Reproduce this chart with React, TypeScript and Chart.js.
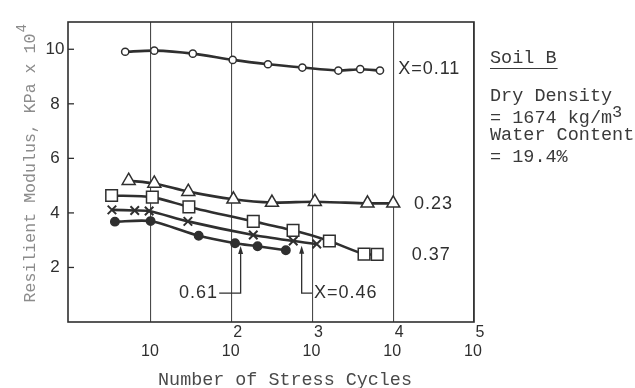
import React, { useEffect, useRef } from "react";
import { Chart, registerables } from "chart.js";

Chart.register(...registerables);

// ---- Data ----
const cyclesX011 = [4.8, 11, 33, 103, 281, 749, 2090, 3900, 6850];
const modulusX011 = [9.91, 9.95, 9.84, 9.61, 9.45, 9.33, 9.22, 9.27, 9.22];

const cyclesX023 = [5.3, 11, 29, 105, 315, 1070, 4800, 10000];
const modulusX023 = [5.18, 5.08, 4.78, 4.5, 4.38, 4.41, 4.35, 4.35];

const cyclesX037 = [3.26, 10.4, 29.5, 185, 575, 1620, 4350, 6330];
const modulusX037 = [4.64, 4.58, 4.22, 3.69, 3.36, 2.97, 2.49, 2.48];

const cyclesX046 = [3.29, 6.3, 9.5, 28.7, 185, 578, 1130];
const modulusX046 = [4.11, 4.09, 4.07, 3.69, 3.19, 2.97, 2.86];

const cyclesX061 = [3.58, 9.9, 39, 110, 209, 468];
const modulusX061 = [3.68, 3.7, 3.16, 2.89, 2.78, 2.63];

const xTickValues = [10, 100, 1000, 10000, 100000];
const xTickExponents = ["", "2", "3", "4", "5"];
const yTickValues = [2, 4, 6, 8, 10];

const curveLabels = ["X=0.11", "0.23", "0.37"];
const curveLabelCycles = [11500, 18100, 17000];
const curveLabelModulus = [9.28, 4.33, 2.46];

const infoLines = ["Dry Density", "= 1674 kg/m", "Water Content", "= 19.4%"];

const INK = "#2f2f2f";

function pts(xs: number[], ys: number[]) {
  return xs.map((x, i) => ({ x, y: ys[i] }));
}

const overlayPlugin = {
  id: "overlay",
  afterDraw(chart: any) {
    const ctx: CanvasRenderingContext2D = chart.ctx;
    const { left, top, right, bottom } = chart.chartArea;
    const xs = chart.scales.x;
    const ys = chart.scales.y;
    ctx.save();

    // frame
    ctx.strokeStyle = INK;
    ctx.lineWidth = 1.6;
    ctx.strokeRect(left, top, right - left, bottom - top);

    // y ticks (inside) and labels
    ctx.fillStyle = INK;
    ctx.font = "17px 'Liberation Sans'";
    ctx.textAlign = "center";
    ctx.textBaseline = "middle";
    ctx.lineWidth = 1.3;
    yTickValues.forEach((v) => {
      const py = ys.getPixelForValue(v);
      ctx.beginPath();
      ctx.moveTo(left, py);
      ctx.lineTo(left + 6, py);
      ctx.stroke();
      ctx.fillText(String(v), left - 13, py);
    });

    // x tick labels 10^n
    xTickValues.forEach((v, i) => {
      const px = xs.getPixelForValue(v);
      ctx.font = "16px 'Liberation Sans'";
      ctx.textAlign = "center";
      ctx.fillText("10", px - 1, bottom + 30);
      if (xTickExponents[i]) {
        ctx.fillText(xTickExponents[i], px + 6, bottom + 11);
      }
    });

    // axis titles
    ctx.font = "18.4px 'Liberation Mono'";
    ctx.fillStyle = "#4a4a4a";
    ctx.textAlign = "center";
    ctx.fillText("Number of Stress Cycles", 285, bottom + 58);

    ctx.save();
    ctx.translate(31, 168);
    ctx.rotate(-Math.PI / 2);
    ctx.fillStyle = "#8c8c8c";
    ctx.font = "16.6px 'Liberation Mono'";
    const yTitle = "Resilient Modulus, KPa x 10";
    ctx.fillText(yTitle, 0, 0);
    const w = ctx.measureText(yTitle).width;
    ctx.textAlign = "left";
    ctx.font = "14px 'Liberation Mono'";
    ctx.fillText("4", w / 2 + 1, -9);
    ctx.restore();

    // curve labels
    ctx.fillStyle = INK;
    ctx.font = "18px 'Liberation Sans'";
    ctx.textAlign = "left";
    ctx.textBaseline = "middle";
    (ctx as any).letterSpacing = "1px";
    curveLabels.forEach((t, i) => {
      ctx.fillText(t, xs.getPixelForValue(curveLabelCycles[i]), ys.getPixelForValue(curveLabelModulus[i]));
    });

    // leader arrows
    const arrow = (vx: number, hy: number, tipY: number, hx: number) => {
      ctx.strokeStyle = INK;
      ctx.lineWidth = 1.3;
      ctx.beginPath();
      ctx.moveTo(hx, hy);
      ctx.lineTo(vx, hy);
      ctx.lineTo(vx, tipY + 6);
      ctx.stroke();
      ctx.beginPath();
      ctx.moveTo(vx, tipY);
      ctx.lineTo(vx - 2.5, tipY + 8);
      ctx.lineTo(vx + 2.5, tipY + 8);
      ctx.closePath();
      ctx.fill();
    };
    const ly = ys.getPixelForValue(1.06);
    ctx.textAlign = "right";
    ctx.fillText("0.61", xs.getPixelForValue(67.6), ly);
    arrow(xs.getPixelForValue(129), ly, ys.getPixelForValue(2.79), xs.getPixelForValue(70));
    arrow(xs.getPixelForValue(735), ly, ys.getPixelForValue(2.8), xs.getPixelForValue(986));
    ctx.textAlign = "left";
    ctx.fillText("X=0.46", xs.getPixelForValue(1045), ly);
    (ctx as any).letterSpacing = "0px";

    // info block
    const bx = right + 16;
    ctx.fillStyle = "#3a3a3a";
    ctx.textBaseline = "alphabetic";
    ctx.font = "18.5px 'Liberation Mono'";
    ctx.fillText("Soil B", bx, 63);
    const sw = ctx.measureText("Soil B").width;
    ctx.lineWidth = 1.2;
    ctx.strokeStyle = "#3a3a3a";
    ctx.beginPath();
    ctx.moveTo(bx, 68.5);
    ctx.lineTo(bx + sw + 1, 68.5);
    ctx.stroke();
    const baselines = [101, 122.5, 139.5, 162];
    infoLines.forEach((t, i) => {
      ctx.fillText(t, bx, baselines[i]);
      if (i === 1) {
        const tw = ctx.measureText(t).width;
        ctx.font = "17px 'Liberation Mono'";
        ctx.fillText("3", bx + tw, baselines[i] - 6);
        ctx.font = "18.5px 'Liberation Mono'";
      }
    });

    ctx.restore();
  },
};

export default function App() {
  const ref = useRef<HTMLCanvasElement | null>(null);
  useEffect(() => {
    document.body.style.margin = "0";
    const canvas = ref.current!;
    const line = {
      borderColor: INK,
      borderWidth: 2.6,
      tension: 0.25,
      pointBorderColor: INK,
      pointBorderWidth: 1.5,
    };
    const chart = new Chart(canvas, {
      type: "line",
      data: {
        datasets: [
          { ...line, label: "X=0.11", data: pts(cyclesX011, modulusX011), pointStyle: "circle", pointRadius: 3.6, pointBackgroundColor: "#fff" },
          { ...line, label: "X=0.23", data: pts(cyclesX023, modulusX023), pointStyle: "triangle", pointRadius: 7.5, pointBackgroundColor: "#fff" },
          { ...line, label: "X=0.37", data: pts(cyclesX037, modulusX037), pointStyle: "rect", pointRadius: 8.2, pointBackgroundColor: "#fff" },
          { ...line, label: "X=0.46", data: pts(cyclesX046, modulusX046), pointStyle: "crossRot", pointRadius: 6, pointBorderWidth: 2, pointBackgroundColor: "#fff" },
          { ...line, label: "X=0.61", data: pts(cyclesX061, modulusX061), pointStyle: "circle", pointRadius: 4.2, pointBackgroundColor: INK },
        ],
      } as any,
      options: {
        responsive: false,
        animation: false,
        events: [],
        layout: { padding: { left: 68, top: 22, right: 161, bottom: 66 } },
        plugins: { legend: { display: false }, tooltip: { enabled: false } },
        scales: {
          x: {
            type: "logarithmic",
            min: 0.94,
            max: 100000,
            ticks: { display: false },
            grid: { color: "#4a4a4a", lineWidth: 1.1, drawTicks: false },
            border: { display: false },
            afterBuildTicks: (s: any) => {
              s.ticks = xTickValues.map((v) => ({ value: v }));
            },
          },
          y: {
            type: "linear",
            min: 0,
            max: 11,
            ticks: { display: false },
            grid: { display: false, drawTicks: false },
            border: { display: false },
          },
        },
      } as any,
      plugins: [overlayPlugin],
    });
    return () => chart.destroy();
  }, []);
  return <canvas ref={ref} width={635} height={388} style={{ display: "block" }} />;
}
